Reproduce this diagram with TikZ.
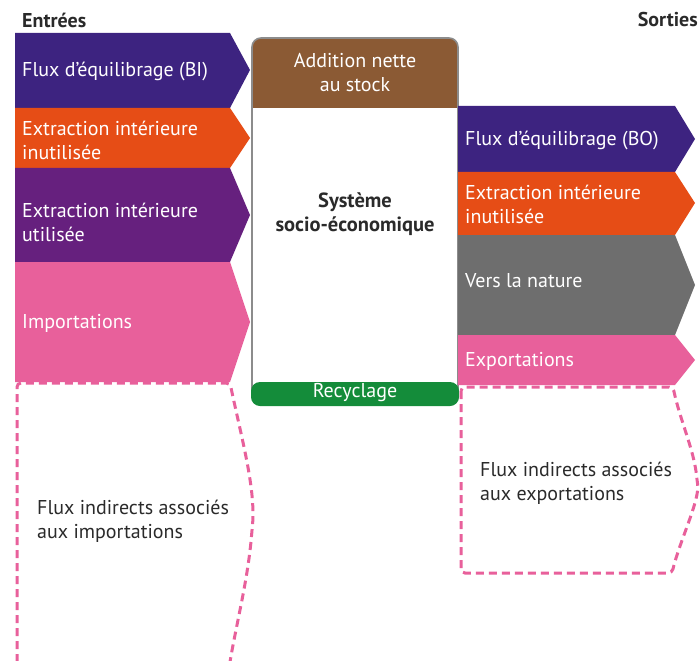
\documentclass[tikz,border=0pt]{standalone}
\usepackage{fontspec}
\setmainfont{PT Sans}
\definecolor{cdpurple}{HTML}{3D2380}
\definecolor{corange}{HTML}{E64D16}
\definecolor{cpurple}{HTML}{66207E}
\definecolor{cpink}{HTML}{E8609B}
\definecolor{cbrown}{HTML}{8B5A34}
\definecolor{cgreen}{HTML}{148C3A}
\definecolor{cgray}{HTML}{6E6E6E}
\definecolor{cborder}{HTML}{8C8C8C}
\definecolor{ctext}{HTML}{2A2A2A}
\tikzset{
  lbl/.style={anchor=west, align=left, text=white, font=\fontsize{20}{24}\selectfont, inner sep=0pt},
  dlbl/.style={lbl, text=ctext},
  clbl/.style={anchor=center, align=center, text=white, font=\fontsize{20}{24}\selectfont, inner sep=0pt},
  head/.style={font=\bfseries\fontsize{20}{24}\selectfont, text=ctext, inner sep=0pt},
  dashbox/.style={draw=cpink, line width=3pt, dash pattern=on 8pt off 5pt, rounded corners=4pt}
}
\begin{document}
\begin{tikzpicture}[x=1pt,y=-1pt]
\useasboundingbox (0,0) rectangle (700,660);
% headers
\node[head, anchor=west] (hin) at (22,20) {Entrées};
\node[head, anchor=east] (hout) at (698,20) {Sorties};

% left arrows
\fill[cdpurple] (15,33) -- (230,33) -- (250,70) -- (230,108) -- (15,108) -- cycle;
\fill[corange] (15,108) -- (230,108) -- (250,138) -- (230,168) -- (15,168) -- cycle;
\fill[cpurple] (15,168) -- (230,168) -- (250,215) -- (230,262) -- (15,262) -- cycle;
\fill[cpink] (15,262) -- (230,262) -- (250,322) -- (230,382) -- (15,382) -- cycle;
\draw[dashbox] (17,662) -- (17,383) -- (230,383) .. controls (242,440) and (256,490) .. (252,530) .. controls (248,580) and (236,625) .. (230,662);

\node[lbl] (l1) at (22,72) {Flux d’équilibrage (BI)};
\node[lbl] (l2) at (22,140) {Extraction intérieure\\inutilisée};
\node[lbl] (l3) at (22,222) {Extraction intérieure\\utilisée};
\node[lbl] (l4) at (22,323) {Importations};
\node[dlbl] (l5) at (37,521) {Flux indirects associés\\aux importations};

% center box
\fill[white] (252,38) rectangle (458,405);
\begin{scope}
\clip[rounded corners=9pt] (252,38) rectangle (458,405);
\fill[cbrown] (252,38) rectangle (458,108);
\end{scope}
\draw[cborder, line width=1.6pt, rounded corners=9pt] (252,38) rectangle (458,405);
\fill[cgreen, rounded corners=9pt] (251,382) rectangle (459,406);
\node[clbl] (c1) at (355,73) {Addition nette\\au stock};
\node[clbl, text=ctext, font=\bfseries\fontsize{20.5}{24}\selectfont] (c2) at (355,214) {Système\\socio-économique};
\node[clbl] (c3) at (355,393) {Recyclage};

% right arrows
\fill[cdpurple] (458,106) -- (675,106) -- (695,139) -- (675,172) -- (458,172) -- cycle;
\fill[corange] (458,172) -- (675,172) -- (695,203) -- (675,235) -- (458,235) -- cycle;
\fill[cgray] (458,235) -- (675,235) -- (695,285) -- (675,335) -- (458,335) -- cycle;
\fill[cpink] (458,335) -- (675,335) -- (695,360) -- (675,385) -- (458,385) -- cycle;
\draw[dashbox] (461,387) -- (461,573) -- (672,573) .. controls (680,540) and (700,500) .. (697,480) .. controls (694,450) and (680,420) .. (673,387) -- cycle;

\node[lbl] (r1) at (465,141) {Flux d’équilibrage (BO)};
\node[lbl] (r2) at (465,204) {Extraction intérieure\\inutilisée};
\node[lbl] (r3) at (465,281) {Vers la nature};
\node[lbl] (r4) at (465,361) {Exportations};
\node[dlbl] (r5) at (480,483) {Flux indirects associés\\aux exportations};
\end{tikzpicture}
\end{document}
